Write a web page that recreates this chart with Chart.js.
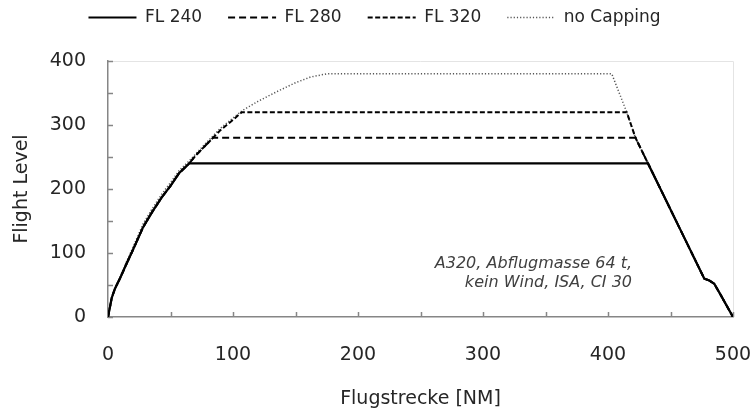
<!DOCTYPE html>
<html>
<head>
<meta charset="utf-8">
<script src="https://cdn.jsdelivr.net/npm/chart.js@4/dist/chart.umd.min.js"></script>
<style>
  html, body { margin: 0; padding: 0; background: #fff; }
  #wrap { width: 751px; height: 412px; }
</style>
</head>
<body>
<div id="wrap"><canvas id="mychart"></canvas></div>
<script>
const seriesNames = ["FL 240", "FL 280", "FL 320", "no Capping"];

const fl240Dist  = [0, 3, 5.5, 10, 15, 20, 28, 35, 43, 50, 57, 65, 432, 450, 465, 477, 481, 485, 490, 500];
const fl240Level = [0, 30, 44, 62, 84, 105, 140, 163, 187, 205, 225, 240, 240, 168, 108, 60, 57, 52, 35, 0];

const fl280Dist  = [0, 3, 5.5, 10, 15, 20, 28, 35, 43, 50, 57, 65, 70, 77, 84, 422, 432, 450, 465, 477, 481, 485, 490, 500];
const fl280Level = [0, 30, 44, 62, 84, 105, 140, 163, 187, 205, 225, 240, 252, 266, 280, 280, 240, 168, 108, 60, 57, 52, 35, 0];

const fl320Dist  = [0, 3, 5.5, 10, 15, 20, 28, 35, 43, 50, 57, 65, 70, 77, 84, 90, 100, 107, 415, 422, 432, 450, 465, 477, 481, 485, 490, 500];
const fl320Level = [0, 30, 44, 62, 84, 105, 140, 163, 187, 205, 225, 240, 252, 266, 280, 292, 308, 320, 320, 280, 240, 168, 108, 60, 57, 52, 35, 0];

const noCapDist  = [0, 3, 5.5, 10, 15, 20, 28, 35, 43, 50, 57, 65, 77, 90, 107, 120, 135, 150, 162, 175, 403, 415, 422, 432, 450, 465, 477, 481, 485, 490, 500];
const noCapLevel = [0, 30, 45, 64, 87, 109, 145, 168, 192, 210, 229, 244, 269, 295, 322, 337, 352, 366, 375, 380, 380, 320, 280, 240, 168, 108, 60, 57, 52, 35, 0];

const xTicks = [0, 100, 200, 300, 400, 500];
const yTicks = [0, 100, 200, 300, 400];
const noteLines = ["A320, Abflugmasse 64 t,", "kein Wind, ISA, CI 30"];

const FONT = "'DejaVu Sans', sans-serif";
const TEXT = "#262626";
const AXIS = "#868686";

function pts(xs, ys) {
  return xs.map((x, i) => ({ x: x, y: ys[i] }));
}

// inward tick marks, faint frame and the note text
const extras = {
  id: "extras",
  beforeDatasetsDraw(chart) {
    const { ctx, chartArea: a, scales: { x, y } } = chart;
    ctx.save();
    ctx.strokeStyle = "#e4e4e4";
    ctx.lineWidth = 1;
    ctx.beginPath();
    ctx.moveTo(a.left, a.top + 0.5);
    ctx.lineTo(a.right + 0.5, a.top + 0.5);
    ctx.lineTo(a.right + 0.5, a.bottom);
    ctx.stroke();

    ctx.strokeStyle = AXIS;
    ctx.lineWidth = 1.5;
    ctx.beginPath();
    for (let v = x.min; v <= x.max; v += 50) {
      const px = Math.round(x.getPixelForValue(v)) + 0.5;
      ctx.moveTo(px, a.bottom);
      ctx.lineTo(px, a.bottom - 5);
    }
    for (let v = y.min; v <= y.max; v += 50) {
      const py = Math.round(y.getPixelForValue(v)) + 0.5;
      ctx.moveTo(a.left, py);
      ctx.lineTo(a.left + 5, py);
    }
    ctx.stroke();
    ctx.restore();
  },
  afterDraw(chart) {
    const { ctx, chartArea: a } = chart;
    ctx.save();
    ctx.font = "italic 16px " + FONT;
    ctx.fillStyle = "#404040";
    ctx.textAlign = "right";
    ctx.textBaseline = "alphabetic";
    ctx.fillText(noteLines[0], a.right - 101, a.bottom - 49);
    ctx.fillText(noteLines[1], a.right - 101, a.bottom - 30);
    ctx.restore();
  },
};

const legendSize = {
  id: "legendSize",
  beforeInit(chart) {
    const fit = chart.legend.fit;
    chart.legend.fit = function () {
      fit.bind(chart.legend)();
      this.height = 78;
    };
  },
  afterLayout(chart) {
    chart.legend.left += 8;
    chart.legend.right += 8;
  },
};

const data = {
  datasets: [
    {
      label: seriesNames[0],
      data: pts(fl240Dist, fl240Level),
      borderColor: "#000",
      borderWidth: 2.2,
    },
    {
      label: seriesNames[1],
      data: pts(fl280Dist, fl280Level),
      borderColor: "#000",
      borderWidth: 2,
      borderDash: [7, 4],
    },
    {
      label: seriesNames[2],
      data: pts(fl320Dist, fl320Level),
      borderColor: "#000",
      borderWidth: 2,
      borderDash: [5, 2.5],
    },
    {
      label: seriesNames[3],
      data: pts(noCapDist, noCapLevel),
      borderColor: "#555",
      borderWidth: 1.5,
      borderDash: [1.2, 2],
    },
  ],
};

const config = {
  type: "scatter",
  data: data,
  options: {
    animation: false,
    responsive: true,
    maintainAspectRatio: false,
    showLine: true,
    elements: {
      point: { radius: 0, hoverRadius: 0 },
      line: { tension: 0, fill: false, backgroundColor: "transparent" },
    },
    layout: { padding: { top: -17, right: 18, left: 0, bottom: 0 } },
    plugins: {
      tooltip: { enabled: false },
      legend: {
        position: "top",
        labels: {
          usePointStyle: true,
          pointStyle: "line",
          pointStyleWidth: 48,
          padding: 26,
          color: TEXT,
          font: { family: FONT, size: 17 },
          generateLabels(chart) {
            const items = Chart.defaults.plugins.legend.labels.generateLabels(chart);
            return items.map((it) => {
              const ds = chart.data.datasets[it.datasetIndex];
              it.lineDash = ds.borderDash || [];
              it.lineWidth = ds.borderWidth;
              it.strokeStyle = ds.borderColor;
              it.fillStyle = "transparent";
              it.pointStyle = "line";
              return it;
            });
          },
        },
      },
    },
    scales: {
      x: {
        type: "linear",
        min: 0,
        max: 500,
        afterBuildTicks: (s) => { s.ticks = xTicks.map((v) => ({ value: v })); },
        afterFit: (s) => { s.height = 95; s.paddingLeft = 0; s.paddingRight = 0; },
        grid: { display: false, drawTicks: false },
        border: { display: true, color: AXIS, width: 1.5 },
        ticks: { padding: 27, color: TEXT, font: { family: FONT, size: 19 } },
        title: {
          display: true,
          text: "Flugstrecke [NM]",
          color: TEXT,
          font: { family: FONT, size: 19 },
          padding: { top: 0, bottom: 2 },
        },
      },
      y: {
        type: "linear",
        min: 0,
        max: 400,
        afterBuildTicks: (s) => { s.ticks = yTicks.map((v) => ({ value: v })); },
        afterFit: (s) => { s.width = 108; },
        grid: { display: false, drawTicks: false },
        border: { display: true, color: AXIS, width: 1.5 },
        ticks: { padding: 22, color: TEXT, font: { family: FONT, size: 19 } },
        title: {
          display: true,
          text: "Flight Level",
          color: TEXT,
          font: { family: FONT, size: 19 },
          padding: { top: 11, bottom: 0 },
        },
      },
    },
  },
  plugins: [legendSize, extras],
};

const mychart = new Chart(document.getElementById("mychart"), config);
</script>
</body>
</html>
